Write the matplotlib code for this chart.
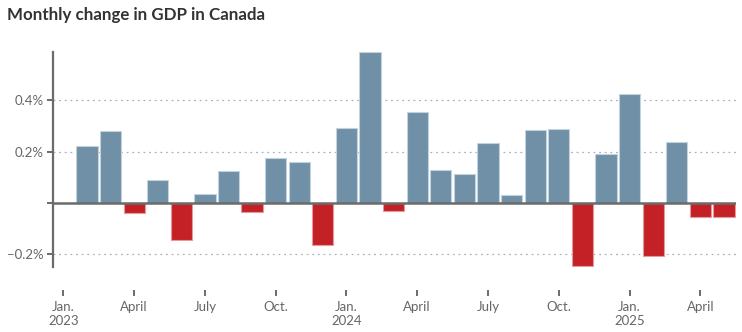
import numpy as np
import matplotlib.pyplot as plt

# monthly GDP change, Feb 2023 .. May 2025 (Jan 2023 has no bar)
months = ['2023-01', '2023-02', '2023-03', '2023-04', '2023-05', '2023-06', '2023-07',
          '2023-08', '2023-09', '2023-10', '2023-11', '2023-12', '2024-01', '2024-02',
          '2024-03', '2024-04', '2024-05', '2024-06', '2024-07', '2024-08', '2024-09',
          '2024-10', '2024-11', '2024-12', '2025-01', '2025-02', '2025-03', '2025-04',
          '2025-05']
values = [np.nan, 0.222, 0.281, -0.041, 0.088, -0.146, 0.034, 0.122, -0.038,
          0.175, 0.159, -0.167, 0.293, 0.59, -0.034, 0.356, 0.129, 0.112, 0.234,
          0.030, 0.284, 0.288, -0.247, 0.190, 0.425, -0.208, 0.238, -0.055, -0.055]

tick_pos = [0, 3, 6, 9, 12, 15, 18, 21, 24, 27]
tick_labels = ['Jan.\n2023', 'April', 'July', 'Oct.', 'Jan.\n2024', 'April', 'July',
               'Oct.', 'Jan.\n2025', 'April']
ytick_vals = [-0.2, 0, 0.2, 0.4]
ytick_labels = ['\u22120.2%', '', '0.2%', '0.4%']

plt.rcParams['font.family'] = ['Lato', 'DejaVu Sans']

fig = plt.figure(figsize=(7.42, 3.32), dpi=100)
ax = fig.add_axes([0.0714, 0.1967, 0.9201, 0.6476])

x = np.arange(len(months))
vals = np.array(values)
colors = ['#6f90a6' if v >= 0 else '#c42127' for v in np.nan_to_num(vals)]
edges = ['#c4d2dc' if v >= 0 else '#e49a9d' for v in np.nan_to_num(vals)]
ax.bar(x, np.nan_to_num(vals), width=0.9, color=colors, edgecolor=edges, linewidth=0.8, zorder=3)

for y in [-0.2, 0.2, 0.4]:
    ax.axhline(y, color='#a9b3bb', lw=0.9, ls=(0, (1.5, 3)), zorder=1)
ax.axhline(0, color='#6b6b6b', lw=1.8, zorder=4)

ax.set_xlim(-0.44, 28.5)
ax.set_ylim(-0.25, 0.59)

ax.set_yticks(ytick_vals)
ax.set_yticklabels(ytick_labels)
ax.set_xticks(tick_pos)
ax.set_xticklabels(tick_labels)

for s in ['top', 'right']:
    ax.spines[s].set_visible(False)
ax.spines['left'].set_color('#6b6b6b')
ax.spines['left'].set_linewidth(1.6)
ax.spines['bottom'].set_visible(False)
ax.spines['bottom'].set_position(('outward', 17))

ax.tick_params(axis='y', length=4, width=1.4, color='#6b6b6b', labelcolor='#666666',
               labelsize=9.5, pad=3)
ax.tick_params(axis='x', length=4, width=1.4, color='#6b6b6b', labelcolor='#666666',
               labelsize=9.5, pad=4)

fig.text(0.009, 0.955, 'Monthly change in GDP in Canada', fontsize=12.2, fontweight='bold',
         color='#333333', va='center', ha='left')

fig.savefig('out.png', dpi=100)
